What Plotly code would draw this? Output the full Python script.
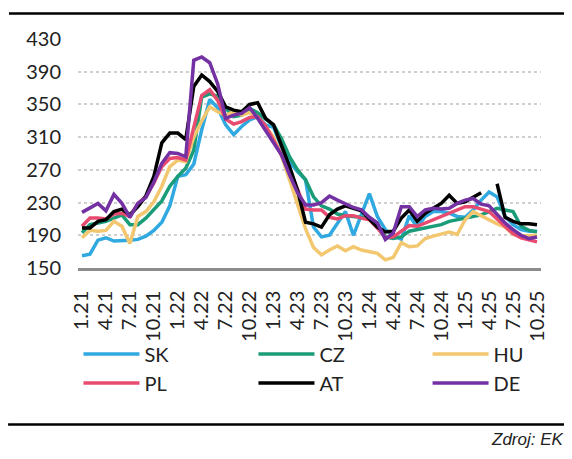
import plotly.graph_objects as go

# Monthly categories 1.21 .. 10.25
months = [f"{m}.{y}" for y in range(21, 26) for m in range(1, 13)][:58]
tick_labels = ["1.21", "4.21", "7.21", "10.21", "1.22", "4.22", "7.22", "10.22",
               "1.23", "4.23", "7.23", "10.23", "1.24", "4.24", "7.24", "10.24",
               "1.25", "4.25", "7.25", "10.25"]
y_ticks = [150, 190, 230, 270, 310, 350, 390, 430]

sk = [165, 167, 184, 187, 183, 183, 184, 185, 189, 196,
      206, 226, 262, 264, 277, 319, 356, 346, 325, 313,
      323, 331, 335, 325, 322, 298, 280, 268, 258, 200,
      188, 190, 205, 219, 190, 215, 241, 213, 197, 190,
      185, 214, 200, 213, 219, 219, 217, 213, 212, 221,
      233, 243, 237, 213, 203, 197, 195, 195]
cz = [193, 203, 205, 207, 211, 215, 203, 203, 211, 221,
      232, 250, 262, 272, 294, 359, 363, 360, 345, 335,
      337, 345, 340, 332, 325, 308, 286, 270, 258, 237,
      226, 222, 216, 214, 213, 212, 211, 201, 188, 186,
      188, 195, 197, 199, 201, 203, 207, 209, 210, 212,
      215, 219, 223, 221, 219, 201, 196, 194]
hu = [187, 196, 195, 196, 207, 201, 180, 213, 219, 231,
      250, 274, 282, 280, 310, 330, 347, 341, 337, 341,
      337, 340, 333, 323, 310, 287, 258, 229, 198, 175,
      166, 172, 177, 171, 176, 172, 170, 168, 160, 163,
      181, 176, 177, 186, 189, 192, 194, 191, 209, 219,
      214, 208, 204, 200, 191, 189, 189, 190]
pl = [201, 211, 211, 210, 216, 217, 213, 229, 237, 254,
      274, 284, 285, 282, 322, 361, 368, 355, 332, 326,
      329, 334, 335, 324, 306, 288, 270, 246, 222, 221,
      221, 212, 210, 214, 214, 211, 209, 199, 187, 188,
      195, 202, 201, 205, 210, 214, 218, 222, 225, 225,
      222, 219, 210, 201, 192, 187, 185, 182]
at = [199, 199, 207, 209, 219, 222, 215, 225, 238, 262,
      303, 315, 315, 307, 372, 386, 378, 366, 347, 343,
      341, 350, 352, 333, 325, 300, 274, 245, 206, 204,
      200, 215, 222, 226, 223, 220, 210, 200, 194, 195,
      211, 221, 207, 217, 223, 229, 239, 229, 231, 237,
      242, None, 253, 212, 207, 204, 204, 203]
de = [218, 223, 229, 220, 240, 229, 212, 229, 236, 255,
      278, 291, 290, 286, 404, 408, 401, 375, 333, 337,
      339, 346, 333, 318, 303, 288, 264, 242, 227, 227,
      230, 238, 233, 228, 224, 221, 212, 205, 185, 193,
      225, 225, 213, 221, 223, 222, 223, 229, 233, 235,
      228, 226, 215, 205, 197, 190, 186, 188]

# (name, values, colour, legend column)
series = [
    ("SK", sk, "#2fa9e0", "legend"),
    ("CZ", cz, "#1a9c78", "legend2"),
    ("HU", hu, "#f3c76f", "legend3"),
    ("PL", pl, "#e84b70", "legend"),
    ("AT", at, "#000000", "legend2"),
    ("DE", de, "#7331a3", "legend3"),
]

fig = go.Figure()
for name, vals, color, leg in series:
    fig.add_trace(go.Scatter(x=months, y=vals, name=name, mode="lines",
                             line=dict(color=color, width=3.5),
                             connectgaps=False, legend=leg))

font_main = "Lato, 'Open Sans', sans-serif"

def legend_box(xpos):
    return dict(orientation="v", x=xpos, xanchor="left", y=-0.29, yanchor="top",
                font=dict(size=20, color="#222222", family=font_main), itemwidth=56,
                bgcolor="rgba(0,0,0,0)", traceorder="normal", tracegroupgap=0)

# the page body adds an 8px offset, so the figure is 8px smaller than the window
fig.update_layout(
    width=564, height=451,
    margin=dict(l=70, r=31, t=31, b=190.7, autoexpand=False),
    plot_bgcolor="white", paper_bgcolor="white",
    font=dict(family=font_main, size=20, color="#222222"),
    showlegend=True,
    legend=legend_box(0.001),
    legend2=legend_box(0.379),
    legend3=legend_box(0.755),
    xaxis=dict(type="category", categoryorder="array", categoryarray=months,
               range=[-0.5, 57.5], tickmode="array", tickvals=tick_labels,
               ticktext=tick_labels, tickangle=-90, showgrid=False,
               showline=True, linecolor="#8c8c8c", linewidth=2.5,
               ticks="", ticklabelstandoff=12,
               tickfont=dict(size=20, color="#222222", family=font_main)),
    yaxis=dict(range=[150, 430], tickmode="array", tickvals=y_ticks,
               showgrid=True, gridcolor="#cfcfcf", gridwidth=1.5, griddash="dot",
               zeroline=False, showline=False, ticks="", ticklabelstandoff=16,
               tickfont=dict(size=20, color="#222222", family=font_main)),
    shapes=[
        dict(type="line", xref="paper", yref="paper", x0=-0.149, x1=1.07,
             y0=1.111, y1=1.111, line=dict(color="black", width=2.5)),
        dict(type="line", xref="paper", yref="paper", x0=-0.151, x1=1.07,
             y0=-0.683, y1=-0.683, line=dict(color="black", width=2.5)),
    ],
    annotations=[
        dict(text="<i>Zdroj: EK</i>", xref="paper", yref="paper", x=1.054, y=-0.749,
             xanchor="right", yanchor="middle", showarrow=False,
             font=dict(family="Liberation Sans, Arial, sans-serif", size=17, color="#222222")),
    ],
)

fig.write_html("out.html")
